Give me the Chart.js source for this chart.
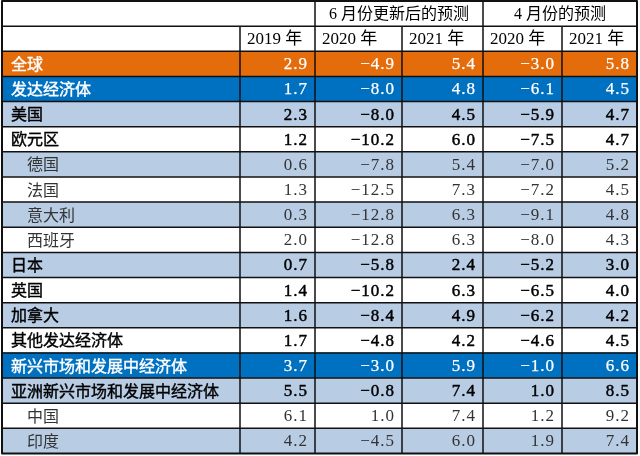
<!DOCTYPE html>
<html><head><meta charset="utf-8">
<script src="https://cdn.jsdelivr.net/npm/chart.js@4/dist/chart.umd.min.js"></script>
<style>html,body{margin:0;padding:0;background:#fff}#wrap{width:640px;height:456px;position:relative}</style>
</head><body><div id="wrap"><canvas id="c"></canvas></div>
<script>
// ---- data ----
const regions = ['全球','发达经济体','美国','欧元区','德国','法国','意大利','西班牙','日本','英国','加拿大','其他发达经济体','新兴市场和发展中经济体','亚洲新兴市场和发展中经济体','中国','印度'];
const y2019   = [2.9, 1.7, 2.3, 1.2, 0.6, 1.3, 0.3, 2.0, 0.7, 1.4, 1.6, 1.7, 3.7, 5.5, 6.1, 4.2];
const jun2020 = [-4.9, -8.0, -8.0, -10.2, -7.8, -12.5, -12.8, -12.8, -5.8, -10.2, -8.4, -4.8, -3.0, -0.8, 1.0, -4.5];
const jun2021 = [5.4, 4.8, 4.5, 6.0, 5.4, 7.3, 6.3, 6.3, 2.4, 6.3, 4.9, 4.2, 5.9, 7.4, 7.4, 6.0];
const apr2020 = [-3.0, -6.1, -5.9, -7.5, -7.0, -7.2, -9.1, -8.0, -5.2, -6.5, -6.2, -4.6, -1.0, 1.0, 1.2, 1.9];
const apr2021 = [5.8, 4.5, 4.7, 4.7, 5.2, 4.5, 4.8, 4.3, 3.0, 4.0, 4.2, 4.5, 6.6, 8.5, 9.2, 7.4];
const groupHeaders = ['6 月份更新后的预测', '4 月份的预测'];
const yearHeaders = ['2019 年', '2020 年', '2021 年', '2020 年', '2021 年'];

// ---- layout / style ----
const valueCols = [y2019, jun2020, jun2021, apr2020, apr2021];
const colEdges = [0, 238, 313, 400, 481, 560, 635];          // column boundaries (scale units)
const groupSpans = [[2, 4], [4, 6]];                          // edge indices for merged headers
const rowStyle = ['orange','blue','light','white','light','white','light','white','light','white','light','white','blue','light','white','light'];
const subRows = new Set([4,5,6,7,14,15]);
const fills = { head:'#ffffff', orange:'#E46C0A', blue:'#0070C0', light:'#B8CCE4', white:'#ffffff' };
const rowKeys = ['h1','h2', ...regions];
const rowFill = ['head','head', ...rowStyle].map(s => fills[s]);

const datasets = [];
for (let c = 0; c < colEdges.length - 1; c++) {
  datasets.push({
    data: rowKeys.map(() => [colEdges[c], colEdges[c + 1]]),
    backgroundColor: rowFill,
    borderWidth: 0,
    barPercentage: 1,
    categoryPercentage: 1,
    grouped: false
  });
}

const fmt = v => (v < 0 ? '\u2212' : '') + Math.abs(v).toFixed(1);
const NUMFONT = "'Liberation Serif', 'Noto Sans CJK SC'";
const CJK = "'Noto Sans CJK SC'";

function drawText(ctx, t, x, y, heavy, color) {
  ctx.fillStyle = color;
  ctx.fillText(t, x, y);
  if (heavy) {
    ctx.strokeStyle = color;
    ctx.lineWidth = heavy;
    ctx.strokeText(t, x, y);
  }
}

const tablePlugin = {
  id: 'tableGrid',
  afterDatasetsDraw(chart) {
    const { ctx, scales: { x, y }, chartArea: a } = chart;
    const n = rowKeys.length;
    const band = y.getPixelForValue(1) - y.getPixelForValue(0);
    const top = i => y.getPixelForValue(i) - band / 2;
    const cx = i => y.getPixelForValue(i);
    const ex = e => x.getPixelForValue(colEdges[e]);
    ctx.save();
    ctx.textBaseline = 'middle';
    ctx.lineJoin = 'round';

    // header row 1 (merged group headers)
    ctx.font = `16px ${NUMFONT}`;
    ctx.textAlign = 'center';
    ctx.letterSpacing = '0px';
    groupSpans.forEach((sp, k) => {
      drawText(ctx, groupHeaders[k], (ex(sp[0]) + ex(sp[1])) / 2, cx(0) + 1, 0, '#000');
    });
    // header row 2 (years)
    ctx.textAlign = 'left';
    ctx.font = `17px ${NUMFONT}`;
    yearHeaders.forEach((t, k) => {
      drawText(ctx, t, ex(k + 1) + 7, cx(1) + 1, 0, '#000');
    });

    // data rows
    regions.forEach((name, r) => {
      const ri = r + 2;
      const st = rowStyle[r];
      const sub = subRows.has(r);
      const colored = st === 'orange' || st === 'blue';
      const color = colored ? '#ffffff' : (sub ? '#333333' : '#000000');
      ctx.textAlign = 'left';
      ctx.letterSpacing = '0px';
      ctx.font = `16px ${CJK}`;
      drawText(ctx, name, ex(0) + (sub ? 25 : 9), cx(ri), sub ? 0 : 0.4, color);
      ctx.textAlign = 'right';
      ctx.letterSpacing = '1px';
      ctx.font = `17px ${NUMFONT}`;
      valueCols.forEach((arr, k) => {
        drawText(ctx, fmt(arr[r]), ex(k + 2) - 7, cx(ri) + 1, sub ? 0 : (colored ? 0.25 : 0.45), color);
      });
    });

    // grid lines
    ctx.strokeStyle = '#111';
    ctx.lineWidth = 1.5;
    ctx.beginPath();
    for (let i = 1; i < n; i++) {
      const yy = top(i);
      ctx.moveTo(a.left, yy); ctx.lineTo(a.right, yy);
    }
    const fullEdges = new Set([2, 4]);
    for (let e = 1; e < colEdges.length - 1; e++) {
      const y0 = fullEdges.has(e) ? a.top : top(1);
      ctx.moveTo(ex(e), y0); ctx.lineTo(ex(e), a.bottom);
    }
    ctx.stroke();
    ctx.lineWidth = 2;
    ctx.strokeRect(a.left, a.top, a.right - a.left, a.bottom - a.top);
    ctx.restore();
  }
};

new Chart(document.getElementById('c'), {
  type: 'bar',
  data: { labels: rowKeys, datasets },
  options: {
    indexAxis: 'y',
    responsive: true,
    maintainAspectRatio: false,
    animation: false,
    layout: { padding: { left: 2, right: 3, top: 1, bottom: 2.5 } },
    plugins: { legend: { display: false }, tooltip: { enabled: false } },
    scales: {
      x: { type: 'linear', min: colEdges[0], max: colEdges[colEdges.length - 1], display: false },
      y: { type: 'category', display: false, offset: true, grid: { display: false } }
    }
  },
  plugins: [tablePlugin]
});
</script>
</body></html>
